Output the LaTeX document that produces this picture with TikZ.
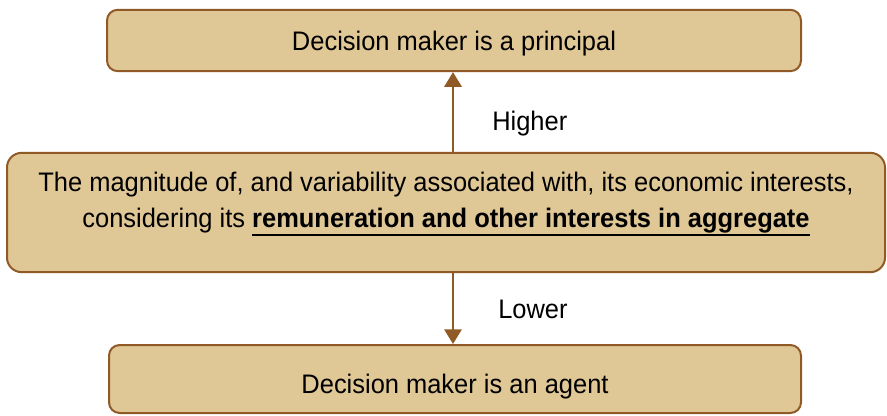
\documentclass[tikz,border=0pt]{standalone}
\usepackage{fontspec}
\setmainfont[FakeStretch=0.95]{Liberation Sans}
\usetikzlibrary{arrows.meta}
\definecolor{boxfill}{RGB}{224,199,150}
\definecolor{boxline}{RGB}{143,90,38}
\newcommand\thickul[1]{\setbox0\hbox{#1}\rlap{\rule[-6.2pt]{\wd0}{1.9pt}}\box0}
\begin{document}
\begin{tikzpicture}[x=0.75pt,y=-0.75pt,
  box/.style={draw=boxline, fill=boxfill, line width=1.5pt, rounded corners=8pt,
    inner sep=0pt, font=\fontsize{20.1}{27}\selectfont, align=center},
  arr/.style={draw=boxline, line width=1.5pt, -{Triangle[width=13pt,length=11pt]}},
  lbl/.style={font=\fontsize{20.1}{27}\selectfont, inner sep=0pt, anchor=base west}]
\useasboundingbox (0,0) rectangle (887,416);
\node[box, minimum width=520.5pt, minimum height=46pt, text height=15.75pt, text depth=0pt]
  (top) at (454,40.5) {Decision maker is a principal};
\node[box, rounded corners=11pt, minimum width=658.5pt, minimum height=89.5pt,
  text height=23.25pt, text depth=0pt]
  (mid) at (446,212.5) {The magnitude of, and variability associated with, its economic interests,\\
  considering its \thickul{\textbf{remuneration and other interests in aggregate}}};
\node[box, minimum width=519pt, minimum height=51pt, text height=21pt, text depth=0pt]
  (bot) at (455,379) {Decision maker is an agent};
\coordinate (ax) at (453,0);
\draw[arr] (mid.north -| ax) -- (top.south -| ax);
\draw[arr] (mid.south -| ax) -- (bot.north -| ax);
\node[lbl] (hi) at (492,131) {Higher};
\node[lbl] (lo) at (498,318) {Lower};
\end{tikzpicture}
\end{document}
